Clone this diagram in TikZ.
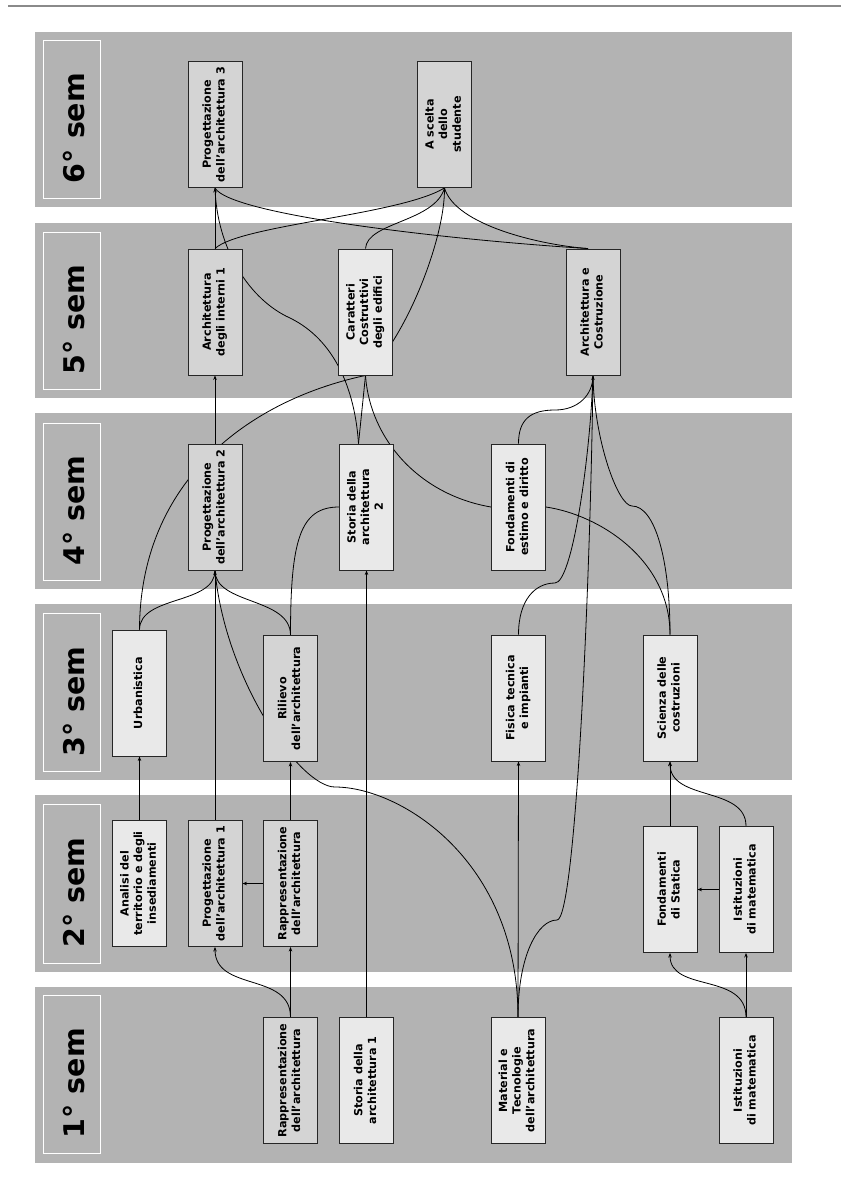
\documentclass[tikz,border=0pt]{standalone}
\usepackage{fontspec}
\setmainfont{DejaVu Sans}
\usetikzlibrary{arrows.meta,calc}
\definecolor{bandgray}{HTML}{B3B3B3}
\definecolor{dbox}{HTML}{D4D4D4}
\definecolor{lbox}{HTML}{E9E9E9}
\definecolor{topline}{HTML}{8A8A8A}
\newcommand{\vtext}[1]{\rotatebox{90}{\fontsize{11.2}{13.6}\selectfont\bfseries\begin{tabular}{@{}c@{}}#1\end{tabular}}}
\pgfdeclarelayer{bg}
\pgfdeclarelayer{links}
\pgfsetlayers{bg,links,main}
\tikzset{
  band/.style={fill=bandgray, draw=none},
  semlabel/.style={draw=white, line width=1pt},
  semtext/.style={rotate=90, font=\fontsize{28.5}{30}\selectfont\bfseries, inner sep=0pt},
  course/.style={draw=black!85, line width=0.9pt, minimum width=54pt, minimum height=126pt, inner sep=0pt},
  dark/.style={course, fill=dbox},
  light/.style={course, fill=lbox},
  conn/.style={line width=0.8pt, black},
  arr/.style={conn, -{Stealth[length=4.5pt,width=3.5pt]}}
}
\begin{document}
\begin{tikzpicture}[x=1pt,y=-1pt]
\useasboundingbox (0,0) rectangle (841,1184);
\begin{pgfonlayer}{bg}
\draw[topline, line width=1.4pt] (8,6) -- (841,6);
\fill[band] (35,32) rectangle (792,207);
\fill[band] (35,223) rectangle (792,398);
\fill[band] (35,413) rectangle (792,589);
\fill[band] (35,604) rectangle (792,780);
\fill[band] (35,795) rectangle (792,972);
\fill[band] (35,987) rectangle (792,1163);
\draw[semlabel] (43,40) rectangle (100,198);
\draw[semlabel] (43,232) rectangle (100,389);
\draw[semlabel] (43,423) rectangle (100,580);
\draw[semlabel] (43,613) rectangle (100,771);
\draw[semlabel] (43,804) rectangle (100,963);
\draw[semlabel] (43,995) rectangle (100,1153);
\end{pgfonlayer}
\node[semtext] (s6) at (74.5,128) {6° sem};
\node[semtext] (s5) at (74.5,319.5) {5° sem};
\node[semtext] (s4) at (74.5,510.5) {4° sem};
\node[semtext] (s3) at (74.5,701.5) {3° sem};
\node[semtext] (s2) at (74.5,892.5) {2° sem};
\node[semtext] (s1) at (74.5,1083) {1° sem};
% courses
\node[dark] (p3) at (215,124.5) {\vtext{Progettazione\\dell’architettura 3}};
\node[dark] (asc) at (444.5,124.5) {\vtext{A scelta\\dello\\studente}};
\node[dark] (ai) at (215,312) {\vtext{Architettura\\degli interni 1}};
\node[light] (car) at (365.5,312) {\vtext{Caratteri\\Costruttivi\\degli edifici}};
\node[dark] (ac) at (593,312) {\vtext{Architettura e\\Costruzione}};
\node[dark] (p2) at (215,507) {\vtext{Progettazione\\dell’architettura 2}};
\node[light] (st2) at (366.5,507) {\vtext{Storia della\\architettura\\2}};
\node[light] (fe) at (518.5,507) {\vtext{Fondamenti di\\estimo e diritto}};
\node[light] (urb) at (139.5,693) {\vtext{Urbanistica}};
\node[dark] (ril) at (290.5,698.5) {\vtext{Rilievo\\dell’architettura}};
\node[light] (ft) at (518.5,698) {\vtext{Fisica tecnica\\e impianti}};
\node[light] (sc) at (670,698) {\vtext{Scienza delle\\costruzioni}};
\node[light] (an) at (139.5,883.5) {\vtext{Analisi del\\territorio e degli\\insediamenti}};
\node[dark] (p1) at (215,883.5) {\vtext{Progettazione\\dell’architettura 1}};
\node[dark] (r2) at (290.5,883.5) {\vtext{Rappresentazione\\dell’architettura}};
\node[light] (fs) at (670,889.5) {\vtext{Fondamenti\\di Statica}};
\node[light] (is2) at (746,889.5) {\vtext{Istituzioni\\di matematica}};
\node[dark] (r1) at (290.5,1080.5) {\vtext{Rappresentazione\\dell’architettura}};
\node[light] (st1) at (366.5,1080.5) {\vtext{Storia della\\architettura 1}};
\node[light] (mat) at (518,1080.5) {\vtext{Material e\\Tecnologie\\dell’architettura}};
\node[light] (is1) at (746,1080.5) {\vtext{Istituzioni\\di matematica}};
\coordinate (st2t) at ($(st2.north)+(-8,0)$);
\coordinate (acT) at ($(ac.north)+(-5,0)$);
\begin{pgfonlayer}{links}
% 1st -> 2nd
\draw[arr] (r1.north) -- (r2.south);
\draw[arr] (r1.north) .. controls +(0,-45) and +(0,45) .. (p1.south);
\draw[arr] (r2.west) -- (p1.east);
\draw[arr] (is1.north) -- (is2.south);
\draw[arr] (is1.north) .. controls +(0,-45) and +(0,40) .. (fs.south);
\draw[arr] (is2.west) -- (fs.east);
% 2nd -> 3rd
\draw[arr] (r2.north) -- (ril.south);
\draw[arr] (an.north) -- (urb.south);
\draw[arr] (fs.north) -- (sc.south);
\draw[arr] (is2.north) .. controls +(0,-40) and +(0,40) .. (sc.south);
\draw[arr] (mat.north) -- (ft.south);
% long ones
\draw[arr] (p1.north) -- (p2.south);
\draw[arr] (st1.north) -- (st2.south);
\draw[conn] (mat.north) .. controls (518,860) and (400,787) .. (335,787) .. controls (300,787) and (225,680) .. (p2.south);
\draw[arr] (mat.north) .. controls (518,955) and (538,920) .. (557,920) .. controls (575,920) and (590,600) .. (ac.south);
% 3rd -> 4th/5th
\draw[conn] (ft.north) .. controls (518.5,600) and (535,583) .. (555,583) .. controls (572,583) and (590,460) .. (ac.south);
\draw[conn] (sc.north) .. controls (670,560) and (655,506) .. (632,506) .. controls (618,506) and (594,440) .. (ac.south);
\draw[conn] (fe.east) .. controls (600,515) and (670,560) .. (sc.north);
\draw[conn] (urb.north) .. controls (140,480) and (250,400) .. (car.south);
\draw[conn] (urb.north) .. controls (140,595) and (215,605) .. (p2.south);
\draw[conn] (ril.north) .. controls (290.5,597) and (215,605) .. (p2.south);
\draw[conn] (ril.north) .. controls (290.5,540) and (300,507) .. (st2.west);
% 4th -> 5th/6th
\draw[arr] (p2.north) -- (ai.south);
\draw[conn] (fe.north) .. controls (518.5,420) and (530,410) .. (555,410) .. controls (578,410) and (593,395) .. (ac.south);
\draw[conn] (car.south) .. controls (370,440) and (420,495) .. (fe.west);
\draw[conn] (st2t) -- (car.south) .. controls (405,340) and (445,240) .. (asc.south);
\draw[conn] (st2t) .. controls (355,390) and (335,340) .. (290,318) .. controls (250,300) and (217,250) .. (p3.south);
% 5th -> 6th
\draw[arr] (ai.north) -- (p3.south);
\draw[conn] (ai.north) .. controls (240,225) and (400,215) .. (asc.south);
\draw[conn] (car.north) .. controls (367,222) and (435,222) .. (asc.south);
\draw[conn] (acT) .. controls (540,245) and (455,225) .. (asc.south);
\draw[conn] (acT) .. controls (450,240) and (230,215) .. (p3.south);
\end{pgfonlayer}
\end{tikzpicture}
\end{document}
